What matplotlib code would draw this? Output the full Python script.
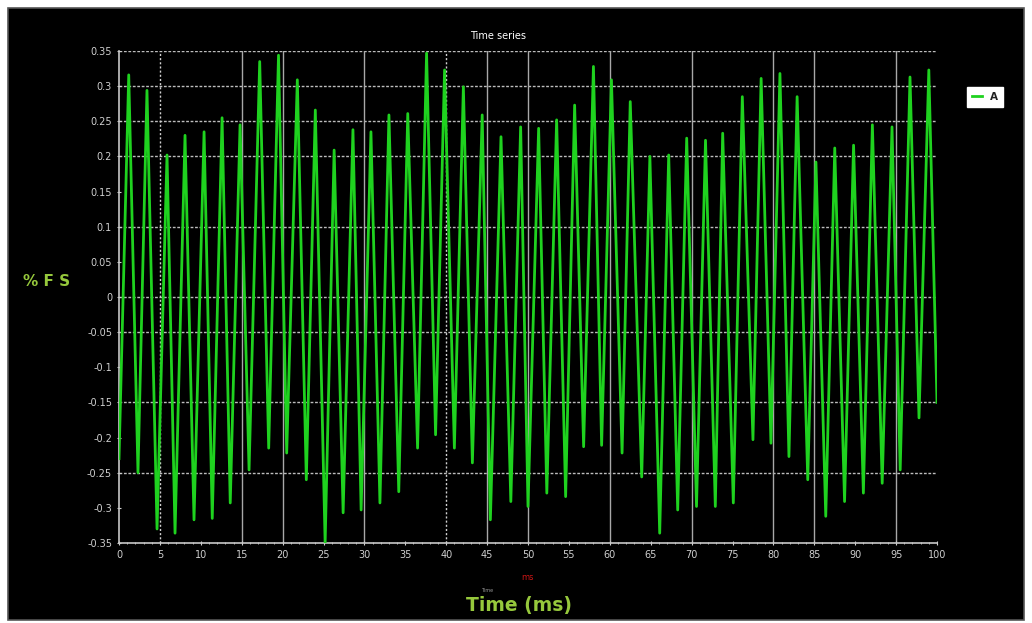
import matplotlib
matplotlib.use("Agg")
import matplotlib.pyplot as plt
from matplotlib.patches import Rectangle
from matplotlib.ticker import MultipleLocator

# extremes of the waveform (ms, %FS)
time_ms = [0.0, 1.19, 2.32, 3.42, 4.65, 5.87, 6.85, 8.07, 9.17, 10.4, 11.4,
           12.6, 13.6, 14.8, 15.9, 17.2, 18.3, 19.5, 20.5, 21.8, 22.9,
           24.0, 25.2, 26.3, 27.4, 28.6, 29.6, 30.8, 31.9, 33.0, 34.2,
           35.3, 36.5, 37.6, 38.7, 39.8, 41.0, 42.1, 43.2, 44.4, 45.4,
           46.7, 47.9, 49.1, 50.0, 51.3, 52.3, 53.5, 54.6, 55.7, 56.8,
           58.0, 59.0, 60.2, 61.5, 62.5, 63.9, 64.9, 66.1, 67.2, 68.3,
           69.4, 70.6, 71.7, 72.9, 73.8, 75.1, 76.2, 77.5, 78.5, 79.7,
           80.8, 81.9, 82.9, 84.2, 85.2, 86.4, 87.5, 88.7, 89.8, 91.0,
           92.1, 93.3, 94.5, 95.5, 96.7, 97.8, 99.0, 100.0]
signal_a = [-0.23, 0.316, -0.25, 0.294, -0.33, 0.202, -0.336, 0.23, -0.317, 0.235, -0.315,
            0.255, -0.293, 0.245, -0.246, 0.335, -0.215, 0.344, -0.222, 0.309, -0.26,
            0.266, -0.35, 0.209, -0.307, 0.238, -0.303, 0.235, -0.293, 0.259, -0.277,
            0.261, -0.215, 0.347, -0.196, 0.323, -0.215, 0.299, -0.236, 0.259, -0.317,
            0.228, -0.291, 0.242, -0.298, 0.24, -0.279, 0.252, -0.284, 0.273, -0.213,
            0.328, -0.211, 0.309, -0.222, 0.278, -0.256, 0.2, -0.336, 0.202, -0.303,
            0.226, -0.298, 0.223, -0.298, 0.233, -0.293, 0.285, -0.203, 0.311, -0.208,
            0.318, -0.227, 0.285, -0.26, 0.192, -0.312, 0.212, -0.291, 0.216, -0.279,
            0.245, -0.265, 0.242, -0.246, 0.313, -0.172, 0.323, -0.15]

# grid positions seen in the picture
hgrid = [0.35, 0.3, 0.25, 0.2, 0.1, 0.0, -0.05, -0.15, -0.25]
vgrid_solid = [15, 20, 30, 45, 50, 60, 70, 80, 85, 95]
vgrid_dotted = [5, 40]

label_green = "#96c83c"
tick_col = "#cfcfcf"

fig = plt.figure(figsize=(10.32, 6.23), dpi=100)
fig.patch.set_facecolor("white")

# black panel with thin dark frame (behind everything)
fig.patches.append(Rectangle((8/1032, 3/623), 1016/1032, 612/623,
                             transform=fig.transFigure, facecolor="black",
                             edgecolor="#555555", linewidth=1.2, zorder=-10))

ax = fig.add_axes([119/1032, 1 - 543/623, 818/1032, 492/623])
ax.set_facecolor("black")

# grid
for y in hgrid:
    ax.axhline(y, color="#bdbdbd", lw=1.0, ls=(0, (2, 1.2)), zorder=1)
for x in vgrid_solid:
    ax.axvline(x, color="#a8a8a8", lw=1.0, zorder=1)
for x in vgrid_dotted:
    ax.axvline(x, color="#d0d0d0", lw=1.0, ls=(0, (1.5, 1.5)), zorder=1)

# the signal
ax.plot(time_ms, signal_a, color="#1fd21f", lw=2.0, label="A", zorder=3)

ax.set_xlim(0, 100)
ax.set_ylim(-0.35, 0.35)

ax.xaxis.set_major_locator(MultipleLocator(5))
ax.xaxis.set_minor_locator(MultipleLocator(1))

# y labels like the original: 0.35 ... 0 ... -0.35
yt = [i / 100 for i in range(-35, 36, 5)]
ax.set_yticks(yt)
ax.set_yticklabels(["%g" % v for v in yt])

for s in ["top", "right"]:
    ax.spines[s].set_visible(False)
for s in ["left", "bottom"]:
    ax.spines[s].set_color("#c8c8c8")
    ax.spines[s].set_linewidth(1.2)

ax.tick_params(axis="both", which="major", colors=tick_col, labelsize=7,
               length=3, width=0.8, direction="inout")
ax.tick_params(axis="x", which="minor", colors=tick_col, length=2, width=0.6,
               direction="inout")

# titles and axis texts
fig.text(498/1032, 1 - 36/623, "Time series", color="white", fontsize=7,
         ha="center", va="center")
fig.text(47/1032, 1 - 281/623, "% F S", color=label_green, fontsize=11,
         fontweight="bold", ha="center", va="center")
fig.text(527/1032, 1 - 577/623, "ms", color="#cc1515", fontsize=6,
         ha="center", va="center")
fig.text(519/1032, 1 - 605/623, "Time (ms)", color=label_green, fontsize=13.5,
         fontweight="bold", ha="center", va="center")
fig.text(487/1032, 1 - 591/623, "Time", color="#999999", fontsize=3.5,
         ha="center", va="center")

# legend box top right
leg = ax.legend(loc="center", bbox_to_anchor=(985/1032, 1 - 97/623),
                bbox_transform=fig.transFigure, fontsize=7.5, frameon=True,
                framealpha=1, handlelength=0.9, handletextpad=0.8,
                borderpad=0.45, fancybox=False)
leg.get_frame().set_facecolor("white")
leg.get_frame().set_edgecolor("white")
for t in leg.get_texts():
    t.set_fontweight("bold")
    t.set_color("#222222")

plt.savefig("out.png", dpi=100, facecolor=fig.get_facecolor())
